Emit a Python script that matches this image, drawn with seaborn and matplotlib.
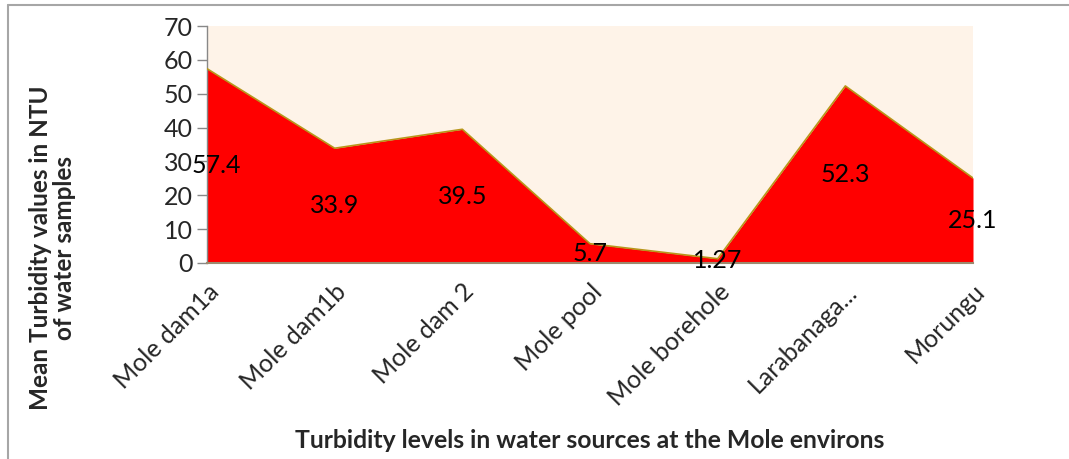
import numpy as np
import pandas as pd
import matplotlib.pyplot as plt
import seaborn as sns
from matplotlib.lines import Line2D

# dados
fontes = ['Mole dam1a', 'Mole dam1b', 'Mole dam 2', 'Mole pool',
          'Mole borehole', 'Larabanaga...', 'Morungu']
turbidez = [57.4, 33.9, 39.5, 5.7, 1.27, 52.3, 25.1]
rotulos = ['57.4', '33.9', '39.5', '5.7', '1.27', '52.3', '25.1']
y_ticks = [0, 10, 20, 30, 40, 50, 60, 70]

df = pd.DataFrame({'Fonte': fontes, 'Turbidez': turbidez})
df['pos'] = np.arange(len(df))

sns.set_theme(style='white')
plt.rcParams['font.family'] = ['Lato', 'DejaVu Sans']

fig = plt.figure(figsize=(10.69, 4.59), dpi=100)
ax = fig.add_axes([207/1069, 1 - 263/459, (973-207)/1069, (263-26)/459])
ax.set_facecolor('#FEF3E8')

# area
ax.fill_between(df['pos'], df['Turbidez'], 0, color='#FF0000', linewidth=0, zorder=2)
sns.lineplot(data=df, x='pos', y='Turbidez', color='#B8961A', linewidth=1.2, ax=ax, zorder=3)

# rotulos no meio da area (o primeiro um pouco para dentro)
for p, v, r in zip(df['pos'], df['Turbidez'], rotulos):
    dx = 9 if p == 0 else 0
    ax.annotate(r, (p, v / 2), xytext=(dx, 0), textcoords='offset pixels',
                ha='center', va='center', fontsize=18, color='black', zorder=4)

ax.set_xlim(0, len(df) - 1)
ax.set_ylim(0, 70)
ax.set_yticks(y_ticks)
ax.set_xticks(df['pos'])
ax.set_xticklabels(fontes, rotation=45, ha='right', rotation_mode='anchor', fontsize=18)
ax.tick_params(axis='y', labelsize=18, length=7, width=1, color='#888888', left=True, pad=3)
ax.tick_params(axis='x', length=0, pad=12)

for s in ['top', 'right']:
    ax.spines[s].set_visible(False)
ax.spines['left'].set_color('#888888')
ax.spines['bottom'].set_color('#9C8A6E')
ax.spines['left'].set_linewidth(1)
ax.spines['bottom'].set_linewidth(1.5)

ax.set_xlabel('Turbidity levels in water sources at the Mole environs',
              fontsize=17.8, fontweight='bold')
ax.set_ylabel('Mean Turbidity values in NTU\nof water samples',
              fontsize=17.5, fontweight='bold', linespacing=1.05)
ax.xaxis.set_label_coords(0.5, -(429 - 263) / (263 - 26))
ax.yaxis.set_label_coords(-(207 - 76) / (973 - 207), -(248 - 263) / (263 - 26))

# moldura
fig.add_artist(Line2D([8/1069, 1], [1 - 5/459, 1 - 5/459], color='#A6A6A6', linewidth=1.5))
fig.add_artist(Line2D([8/1069, 8/1069], [0, 1 - 5/459], color='#A6A6A6', linewidth=1.5))

fig.savefig('out.png', dpi=100)
